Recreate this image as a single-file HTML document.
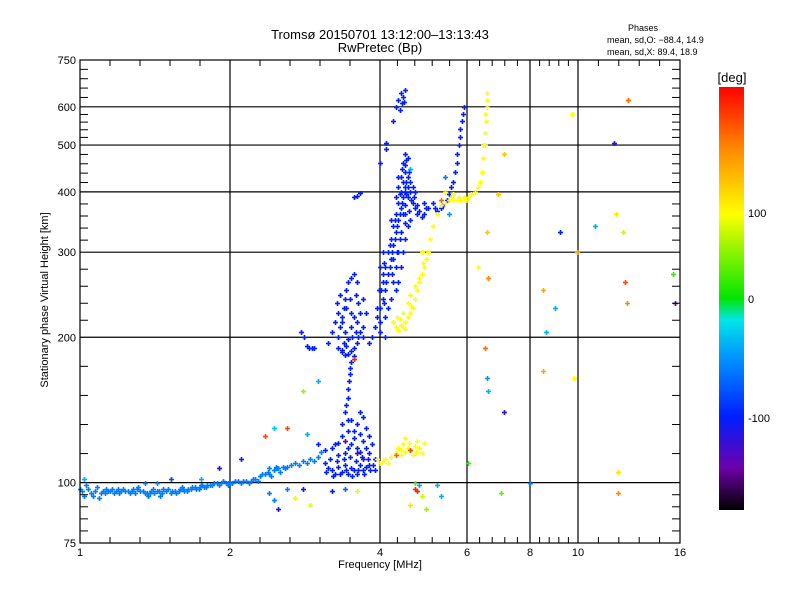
<!DOCTYPE html>
<html><head><meta charset="utf-8"><style>
body{margin:0;background:#fff;}
svg text{font-family:"Liberation Sans",sans-serif;fill:#000;}
</style></head><body>
<svg id="chart" width="800" height="600" viewBox="0 0 800 600" xmlns="http://www.w3.org/2000/svg">
<rect width="800" height="600" fill="#fff"/>
<defs><linearGradient id="cb" x1="0" y1="1" x2="0" y2="0">
<stop offset="0" stop-color="#000"/><stop offset="0.1" stop-color="#6e00aa"/><stop offset="0.22" stop-color="#001eff"/>
<stop offset="0.35" stop-color="#008cff"/><stop offset="0.45" stop-color="#00e6e6"/><stop offset="0.5" stop-color="#00e600"/>
<stop offset="0.7" stop-color="#ffff00"/><stop offset="0.85" stop-color="#ff8c00"/><stop offset="1" stop-color="#ff0000"/>
</linearGradient></defs>
<g id="grid"></g>
<g id="marks"></g>
<g id="axes"></g>
<text x="380" y="39" font-size="13" text-anchor="middle">Tromsø 20150701 13:12:00–13:13:43</text>
<text x="380" y="52" font-size="13" text-anchor="middle">RwPretec (Bp)</text>
<text x="643" y="31" font-size="9" text-anchor="middle">Phases</text>
<text x="607" y="43" font-size="9">mean, sd,O: −88.4, 14.9</text>
<text x="607" y="55" font-size="9">mean, sd,X:  89.4, 18.9</text>
<text x="380" y="568" font-size="11" text-anchor="middle">Frequency [MHz]</text>
<text transform="translate(48,300) rotate(-90)" font-size="11" text-anchor="middle">Stationary phase Virtual Height [km]</text>
<rect x="719" y="87" width="25" height="423" fill="url(#cb)"/>
<text x="732" y="82" font-size="13" text-anchor="middle">[deg]</text>
<g id="cbticks"></g>
</svg>
<script>
const xTicks=[1,2,4,6,8,10,16];
const xTickPx=[80,230,380,467,530,578,680];
const yTicks=[750,600,500,400,300,200,100,75];
const yGrid=[600,500,400,300,200,100];
const cbLabels=["100","0","-100"];
const cbValues=[100,0,-100];
// groups: [f MHz, h km], one phase each
const eTrace=[[1.00,97],[1.02,94],[1.03,99],[1.05,95],[1.07,96],[1.09,93],[1.11,96],[1.13,97],[1.15,96],[1.17,95],[1.19,97],[1.21,96],[1.23,96],[1.26,95],[1.28,97],[1.30,97],[1.32,96],[1.35,95],[1.37,94],[1.39,96],[1.41,95],[1.44,96],[1.47,97],[1.50,97],[1.53,96],[1.56,95],[1.59,97],[1.62,96],[1.65,97],[1.68,98],[1.71,97],[1.74,98],[1.77,98],[1.80,99],[1.84,99],[1.88,100],[1.92,100],[1.96,100],[2.00,100],[2.05,101],[2.10,100],[2.15,101],[2.20,101],[2.25,102],[2.3,103],[2.35,104],[2.4,104],[2.45,106],[2.5,107],[2.55,108],[2.6,108],[2.7,110],[2.8,111],[2.9,112],[3.0,113],[3.05,116],[1.08,98],[1.16,97],[1.45,94],[1.6,98],[1.9,99],[2.28,101],[2.52,105],
[1.01,96],[1.04,97],[1.06,94],[1.10,95],[1.12,95],[1.14,96],[1.18,96],[1.20,95],[1.22,97],[1.25,96],[1.27,96],[1.29,95],[1.31,98],[1.34,96],[1.36,95],[1.38,95],[1.40,97],[1.43,96],[1.46,95],[1.49,96],[1.52,95],[1.55,96],[1.58,96],[1.61,97],[1.64,96],[1.67,97],[1.70,98],[1.73,97],[1.76,99],[1.79,98],[1.82,99],[1.86,100],[1.94,101],[1.98,100],[2.02,100],[2.08,101],[2.12,101],[2.18,100],[2.22,102],[2.32,104],[2.38,105],[2.42,103],[2.48,107],[2.58,107],[2.65,109],[2.75,109],[2.85,110],[2.95,111],[1.98,99],[2.4,107],[2.47,108]];
const eCluster=[[3.1,110],[3.15,107],[3.2,106],[3.25,104],[3.3,108],[3.35,105],[3.4,109],[3.45,104],[3.5,107],[3.55,106],[3.6,104],[3.65,109],[3.7,106],[3.75,108],[3.8,109],[3.2,118],[3.3,121],[3.4,115],[3.5,120],[3.6,118],[3.7,122],[3.8,115],[3.9,112],[3.35,125],[3.45,128],[3.55,124],[3.65,126],[3.75,130],[3.85,120],[3.5,135],[3.6,132],[3.4,140],[3.7,137],[3.3,114],[3.1,117],[3.0,120],[3.9,106],[3.42,145],[3.45,150],[3.45,156],[3.47,162],[3.48,168],[3.48,173],[3.5,178],
[3.12,105],[3.22,103],[3.32,104],[3.42,106],[3.52,103],[3.62,106],[3.72,104],[3.82,106],[3.18,112],[3.28,111],[3.38,112],[3.48,113],[3.58,111],[3.68,113],[3.78,112],[3.88,109],[3.25,120],[3.45,118],[3.65,116],[3.75,118],[3.55,128],[3.8,125],[3.45,135],[3.65,140],[3.35,132]];
const fLow=[[2.78,205],[2.82,200],[2.85,192],[2.88,190],[2.92,190],[2.95,190],[3.3,190],[3.35,186],[3.4,184],[3.45,185],[3.5,187],[3.55,190],[3.6,195],[3.62,200],[3.3,200],[3.32,210],[3.35,220],[3.38,230],[3.4,240],[3.42,250],[3.45,260],[3.5,265],[3.55,270],[3.3,225],[3.35,215],[3.4,205],[3.5,210],[3.55,220],[3.6,215],[3.65,225],[3.7,240],[3.2,205],[3.25,215],[3.15,195],[3.6,260],[3.7,210],[3.8,195],[3.65,205],[3.5,225],[3.55,390],[3.6,392],[3.65,397],
[3.38,195],[3.45,198],[3.52,200],[3.58,205],[3.28,235],[3.33,245],[3.42,230],[3.48,240],[3.58,245],[3.62,235],[3.75,225],[3.7,200],[3.35,188],[3.42,192],[3.55,183]];
const fMain=[[3.85,200],[3.9,210],[3.95,220],[4.0,205],[4.0,230],[4.05,240],[4.1,250],[4.05,260],[4.15,270],[4.1,280],[4.2,290],[4.15,300],[4.25,310],[4.2,320],[4.3,330],[4.25,340],[4.35,350],[4.3,360],[4.4,370],[4.35,380],[4.45,390],[4.4,400],[4.5,410],[4.45,420],[4.55,430],[4.5,440],[4.45,460],[4.5,480],[4.55,470],[4.4,330],[4.35,300],[4.3,280],[4.25,260],[4.2,240],[4.1,220],[4.0,215],[3.95,230],[4.05,270],[4.2,350],[4.3,390],[4.6,400],[4.65,380],[4.7,370],[4.75,360],[4.8,365],[4.85,355],[4.6,350],[4.5,360],[4.55,340],[4.5,320],[4.45,300],[4.4,280],[4.35,260],[4.15,230],[4.1,200],[4.25,290],[4.3,250],[4.6,420],[4.65,410],[4.4,430],[4.35,410],[4.45,360],[4.55,390],[4.7,400],[3.98,250],[4.0,280],[4.05,300],[4.3,600],[4.35,620],[4.4,640],[4.45,630],[4.5,650],[4.38,590],[4.42,610],[4.47,615],[4.25,560],[4.0,460],[4.12,505],[4.12,490],[5.15,370],[5.2,365],[5.3,370],[5.35,375],[5.45,385],[5.5,395],[5.55,410],[5.6,420],[5.65,440],[5.7,460],[5.72,480],[5.75,500],[5.78,520],[5.8,540],[5.85,560],[5.88,580],[5.9,600],[5.1,380],[5.0,370],[4.9,380],
[4.08,235],[4.12,260],[4.18,280],[4.22,300],[4.28,320],[4.32,340],[4.38,360],[4.42,380],[4.48,400],[4.52,420],[4.58,440],[4.42,445],[4.38,395],[4.28,350],[4.18,310],[4.08,285],[4.02,250],[4.48,375],[4.52,395],[4.62,385],[4.68,390],[4.75,375],[4.9,360],[4.95,370],[4.22,270],[4.32,300],[4.38,320],[4.48,345],[4.58,365],[4.55,410],[4.35,430],[4.48,455],[4.52,465]];
const xTrace=[[4.25,215],[4.3,210],[4.35,207],[4.4,212],[4.45,210],[4.5,215],[4.55,220],[4.6,225],[4.65,230],[4.7,240],[4.75,250],[4.8,260],[4.85,270],[4.9,280],[4.95,290],[5.0,300],[5.05,320],[5.1,340],[5.2,360],[5.3,375],[5.4,380],[5.5,385],[5.6,385],[5.7,385],[5.8,385],[5.9,390],[6.0,390],[6.1,395],[6.2,400],[6.3,410],[6.35,420],[6.4,440],[6.45,470],[6.5,500],[6.5,530],[6.52,560],[6.55,600],[6.55,620],[6.57,640],[4.45,225],[4.55,235],[4.6,245],[4.7,255],[4.85,300],[5.4,400],[5.6,395],[3.95,112],[4.0,110],[4.05,111],[4.1,112],[4.15,110],[4.2,113],[4.3,115],[4.4,117],[4.45,120],[4.5,116],[4.55,118],[4.6,117],[4.7,119],[4.8,118],[4.85,115],[4.9,121],[4.5,124],[4.4,114],[4.75,122],[4.65,114],
[4.32,220],[4.38,218],[4.48,208],[4.62,232],[4.78,265],[4.88,285],[5.55,390],[5.75,390],[5.95,385],[6.45,500],[6.5,580],[4.35,118],[4.58,121],[4.72,116]];
const groupPhases=[-60,-100,-100,-100,100];
// scattered points: [f, h, phase]
const scatter=[[6.55,330,120],[6.6,265,140],[6.9,395,120],[7.1,480,120],[6.3,280,100],[6.5,190,150],[6.55,165,-50],[6.6,155,-40],[7.1,140,-120],[8.0,100,-60],[8.5,250,130],[8.6,205,-40],[9.0,230,-40],[9.2,330,-100],[8.5,170,130],[9.8,165,100],[9.7,580,100],[9.95,300,130],[10.8,340,-40],[11.8,505,-110],[11.9,360,110],[12.3,330,80],[12.4,260,160],[12.5,235,140],[12.0,105,110],[12.6,620,150],[15.5,270,20],[15.6,235,-140],[12,95,140],[7.0,95,40],[6.0,110,20],[5.5,360,-50],[2.35,125,160],[2.45,130,-30],[2.4,95,-60],[2.45,92,-60],[2.5,88,-110],[2.6,97,-60],[2.7,93,90],[2.8,97,-100],[2.9,90,90],[3.2,96,-100],[3.4,97,-70],[3.6,96,90],[2.8,155,60],[3.0,162,-40],[2.85,126,-40],[2.6,130,160],[3.55,180,170],[2.1,112,-110],[1.43,100,-50],[1.52,102,-80],[1.35,100,-60],[1.75,102,-40],[1.9,107,-110],[1.75,99,-60],[1.02,102,-40],[4.7,97,170],[4.75,96,170],[4.85,94,80],[4.6,90,110],[4.95,88,60],[5.2,99,-40],[5.3,94,-40],[4.8,99,-40],[4.7,100,40],[3.6,115,-150],[3.4,122,-140],[3.7,112,-130],[4.6,117,160],[4.3,114,150],[5.3,385,150],[4.6,445,-40],[5.4,430,-60]];

const NS="http://www.w3.org/2000/svg";
function X(f){return 80+150*Math.log2(f);}
function Y(h){return 543-483*Math.log10(h/75);}
function mk(tag,at,parent){const e=document.createElementNS(NS,tag);for(const k in at)e.setAttribute(k,at[k]);parent.appendChild(e);return e;}
const stops=[[0,[0,0,0]],[0.1,[110,0,170]],[0.22,[0,30,255]],[0.35,[0,140,255]],[0.45,[0,230,230]],[0.5,[0,230,0]],[0.7,[255,255,0]],[0.85,[255,140,0]],[1,[255,0,0]]];
function pT(p){if(p<=-100)return 0.22*(p+180)/80;if(p<=0)return 0.22+0.28*(p+100)/100;if(p<=100)return 0.5+0.2*p/100;return Math.min(1,0.7+0.3*(p-100)/80);}
function col(p){const t=pT(p);for(let i=1;i<stops.length;i++){if(t<=stops[i][0]){const a=stops[i-1],b=stops[i];const u=(t-a[0])/(b[0]-a[0]);const c=a[1].map((v,j)=>Math.round(v+(b[1][j]-v)*u));return `rgb(${c})`;}}return 'rgb(255,0,0)';}
const grid=document.getElementById('grid'),axes=document.getElementById('axes'),marks=document.getElementById('marks');
xTicks.slice(1,6).forEach((v,i)=>{const l=mk('line',{x1:xTickPx[i+1],x2:xTickPx[i+1],y1:60,y2:543,stroke:'#000','stroke-width':1.2},grid);

});
yGrid.forEach(v=>{const l=mk('line',{x1:80,x2:680,y1:Y(v),y2:Y(v),stroke:'#000','stroke-width':1.2},grid);

});
function plus(f,h,p){const g=mk('g',{stroke:col(p),'stroke-width':1.6},marks);


const x=Math.round(X(f))+0.5,y=Math.round(Y(h))+0.5;
mk('line',{x1:x-2.5,x2:x+2.5,y1:y,y2:y},g);mk('line',{x1:x,x2:x,y1:y-2.5,y2:y+2.5},g);}
[eTrace,eCluster,fLow,fMain,xTrace].forEach((grp,gi)=>grp.forEach(d=>plus(d[0],d[1],groupPhases[gi])));
scatter.forEach(d=>plus(d[0],d[1],d[2]));
const fr=mk('rect',{x:80,y:60,width:600,height:483,fill:'none',stroke:'#000','stroke-width':1.2},axes);


for(let i=0;i<xTickPx.length-1;i++){const a=xTickPx[i],b=xTickPx[i+1];for(let k=1;k<5;k++){const x=a+(b-a)*k/5;
mk('line',{x1:x,x2:x,y1:543,y2:537,stroke:'#000'},axes);mk('line',{x1:x,x2:x,y1:60,y2:66,stroke:'#000'},axes);}}
xTicks.forEach((v,i)=>{const t=mk('text',{x:xTickPx[i],y:556,'font-size':11,'text-anchor':'middle'},axes);t.textContent=v;

});
for(let i=0;i<yTicks.length-1;i++){const a=Y(yTicks[i]),b=Y(yTicks[i+1]);for(let k=1;k<5;k++){const y=a+(b-a)*k/5;
mk('line',{x1:80,x2:88,y1:y,y2:y,stroke:'#000'},axes);mk('line',{x1:680,x2:672,y1:y,y2:y,stroke:'#000'},axes);}}
yTicks.forEach(v=>{const t=mk('text',{x:76,y:Y(v)+4,'font-size':11,'text-anchor':'end'},axes);t.textContent=v;

});
const cbt=document.getElementById('cbticks');const cbY=[213,299,418];
cbValues.forEach((v,i)=>{
const t=mk('text',{x:748,y:cbY[i]+4,'font-size':11},cbt);t.textContent=cbLabels[i];

});
</script>
</body></html>
